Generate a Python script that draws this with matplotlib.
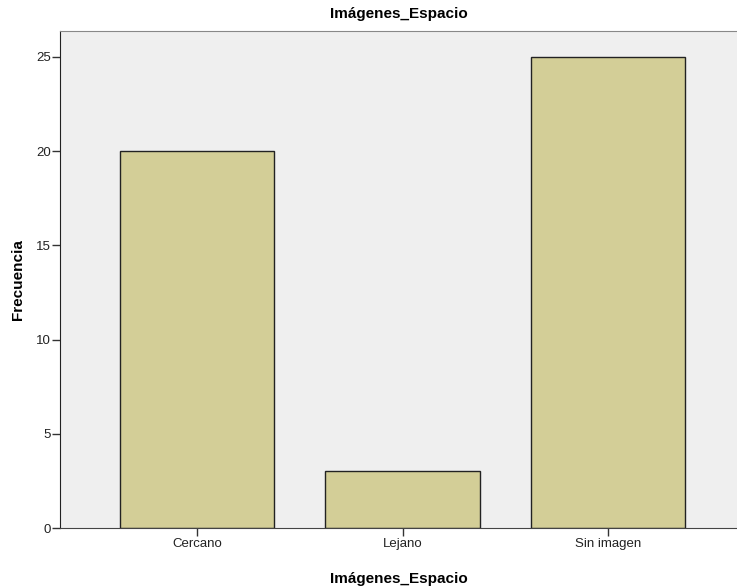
import matplotlib.pyplot as plt

categorias = ["Cercano", "Lejano", "Sin imagen"]
frecuencias = [20, 3, 25]

plt.rcParams['font.family'] = ['Liberation Sans', 'DejaVu Sans']

fig = plt.figure(figsize=(7.37, 5.87), dpi=100)
ax = fig.add_axes([0.0814, 0.1005, 0.9186, 0.8467])
ax.set_facecolor("#EFEFEF")

x = range(len(categorias))
ax.bar(x, frecuencias, width=0.75, color="#D3CE97", edgecolor="#222222", linewidth=1)

ax.set_xlim(-0.667, 2.628)
ax.set_ylim(0, 26.38)
ax.set_yticks([0, 5, 10, 15, 20, 25])
ax.set_xticks(list(x))
ax.set_xticklabels(categorias)
ax.tick_params(axis='both', labelsize=9.5, direction='out', length=5.5, width=1,
               color="#333333", labelcolor="#222222")
ax.tick_params(axis='y', pad=1)
ax.tick_params(axis='x', pad=2)

ax.spines["right"].set_visible(False)
ax.spines["top"].set_color("#888888")
ax.spines["left"].set_color("#222222")
ax.spines["bottom"].set_color("#444444")

ax.set_title("Imágenes_Espacio", fontsize=11, fontweight='bold', pad=9.5)
ax.set_xlabel("Imágenes_Espacio", fontsize=11, fontweight='bold', labelpad=15.5)
ax.set_ylabel("Frecuencia", fontsize=11, fontweight='bold', labelpad=8)

fig.savefig("out.png")
